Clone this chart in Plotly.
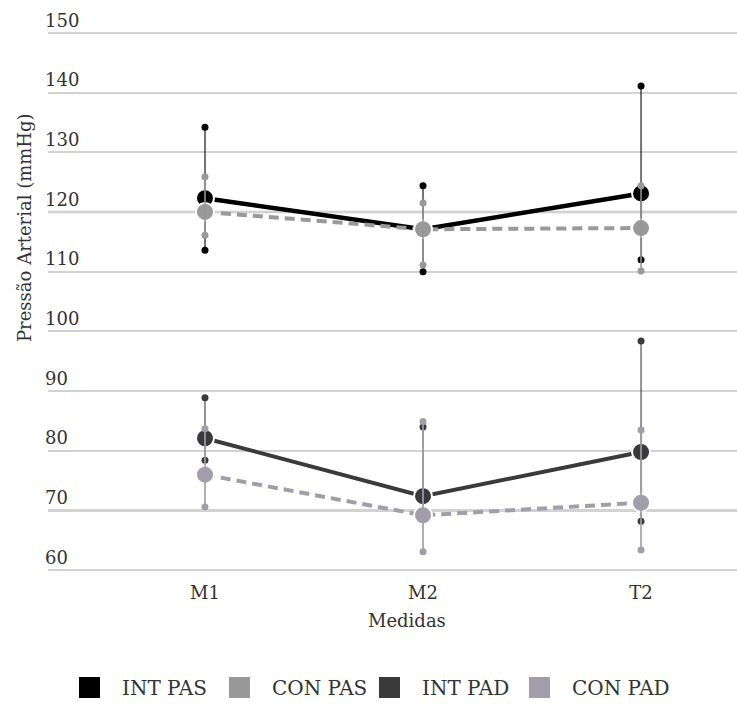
import plotly.graph_objects as go

categories = ["M1", "M2", "T2"]

int_pas_mean = [122.3, 117.1, 123.1]
int_pas_hi = [134.2, 124.4, 141.1]
int_pas_lo = [113.6, 110.0, 112.0]

con_pas_mean = [120.0, 117.1, 117.3]
con_pas_hi = [125.9, 121.5, 124.4]
con_pas_lo = [116.1, 111.1, 110.1]

int_pad_mean = [82.1, 72.4, 79.8]
int_pad_hi = [88.9, 84.0, 98.4]
int_pad_lo = [78.4, 69.8, 68.2]

con_pad_mean = [76.0, 69.2, 71.3]
con_pad_hi = [83.7, 84.9, 83.5]
con_pad_lo = [70.6, 63.1, 63.4]

# the two baseline gridlines that are drawn darker in the original
reference_lines = [120, 70]

series_names = ["INT PAS", "CON PAS", "INT PAD", "CON PAD"]
series_colors = ["#000000", "#999999", "#3a3a3a", "#a19dab"]
series_err_colors = ["rgba(0,0,0,0.55)", "rgba(150,150,150,0.8)", "rgba(58,58,58,0.55)", "rgba(161,157,171,0.85)"]
series_dash = ["solid", "10px,6px", "solid", "10px,6px"]
series_width = [4.5, 4, 4, 4]

FONT = "DejaVu Serif"
TEXT = "#333333"
FS = 18

data = [
    (int_pas_mean, int_pas_hi, int_pas_lo),
    (con_pas_mean, con_pas_hi, con_pas_lo),
    (int_pad_mean, int_pad_hi, int_pad_lo),
    (con_pad_mean, con_pad_hi, con_pad_lo),
]

fig = go.Figure()

for v in reference_lines:
    fig.add_hline(y=v, line=dict(color="#c4c4c4", width=2.5), layer="below")

for k, (mean, hi, lo) in enumerate(data):
    col = series_colors[k]
    fig.add_trace(go.Scatter(
        x=categories, y=mean, mode="lines+markers",
        line=dict(color=col, width=series_width[k], dash=series_dash[k]),
        marker=dict(color=col, size=18, line=dict(color="white", width=2)),
        showlegend=False, cliponaxis=False, hoverinfo="skip"))
    ex, ey = [], []
    for c, h, l in zip(categories, hi, lo):
        ex += [c, c, None]
        ey += [l, h, None]
    fig.add_trace(go.Scatter(
        x=ex, y=ey, mode="lines+markers",
        line=dict(color=series_err_colors[k], width=2),
        marker=dict(color=col, size=7),
        showlegend=False, cliponaxis=False, hoverinfo="skip"))

for k, name in enumerate(series_names):
    fig.add_trace(go.Scatter(
        x=[None], y=[None], mode="markers", name=name,
        marker=dict(symbol="square", color=series_colors[k], size=16,
                    line=dict(color=series_colors[k], width=5)),
        legendwidth=(130 if k == len(series_names) - 1 else 80),
        showlegend=True))

W, H = 737, 708
L, T, PH = 48, 31, 541
PW = W - L

def px(xabs):
    return (xabs - L) / PW

def py(yabs):
    return (T + PH - yabs) / PH

fig.update_layout(
    width=W, height=H,
    margin=dict(l=L, r=0, t=T, b=H - T - PH),
    paper_bgcolor="white", plot_bgcolor="white",
    font=dict(family=FONT, size=FS, color=TEXT),
    xaxis=dict(
        type="category", range=[-0.72, 2.44],
        showgrid=False, zeroline=False, showline=False,
        ticks="outside", ticklen=4, tickcolor="rgba(0,0,0,0)",
        tickfont=dict(family=FONT, size=FS, color=TEXT),
    ),
    yaxis=dict(
        range=[59.7, 150.3], dtick=10, tick0=60,
        showgrid=True, gridcolor="#d2d2d2", gridwidth=1.5,
        zeroline=False, showline=False,
        ticklabelposition="inside top", ticklabeloverflow="allow",
        ticklabelstandoff=-6,
        tickfont=dict(family=FONT, size=FS, color=TEXT),
    ),
    legend=dict(
        orientation="h", x=px(57), xanchor="left", y=py(707), yanchor="bottom",
        font=dict(family=FONT, size=20, color=TEXT),
        itemwidth=55, entrywidthmode="pixels",
        itemclick=False, itemdoubleclick=False,
    ),
    annotations=[
        dict(text="Medidas", xref="paper", yref="paper",
             x=px(407), y=py(620),
             xanchor="center", yanchor="middle", showarrow=False,
             font=dict(family=FONT, size=FS, color=TEXT)),
        dict(text="Pressão Arterial (mmHg)", xref="paper", yref="paper",
             x=px(25), y=py(228), textangle=-90,
             xanchor="center", yanchor="middle", showarrow=False,
             font=dict(family=FONT, size=FS, color=TEXT)),
    ],
)

fig.write_html(
    "out.html",
    config={"displayModeBar": False},
    post_script="document.body.style.margin='0';document.body.style.overflow='hidden';",
)
